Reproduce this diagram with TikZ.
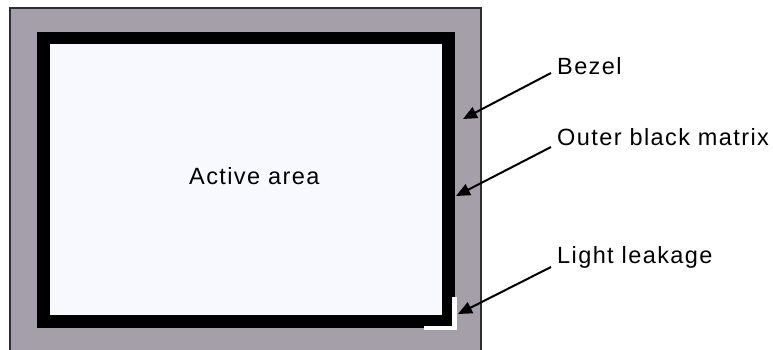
\documentclass[tikz,border=0pt]{standalone}
\usepackage{fontspec}
\setmainfont{Liberation Sans}[LetterSpace=6]
\usetikzlibrary{arrows.meta}
\definecolor{bezelgray}{RGB}{164,159,168}
\definecolor{activefill}{RGB}{248,248,255}
\definecolor{edgegray}{RGB}{45,45,50}
\tikzset{
  lbl/.style={font=\fontsize{23.5}{26}\selectfont, inner sep=0pt, anchor=base west},
  ptr/.style={line width=2pt, -{Triangle[length=14pt,width=12pt]}}
}
\begin{document}
\begin{tikzpicture}[x=1pt,y=-1pt]
\useasboundingbox (0,0) rectangle (773,349);
\begin{scope}
\clip (0,0) rectangle (773,349);
\fill[bezelgray] (10,8) rectangle (481,355);
\draw[edgegray, line width=1.5pt] (10,355) -- (10,8) -- (481,8) -- (481,355);
\fill[black] (37,32) rectangle (455,328);
\fill[activefill] (50,44) rectangle (442,315);
\draw[white, line width=4.5pt] (454.5,297) -- (454.5,328) -- (424,328);
\end{scope}
\node[lbl] (active) at (189,184) {Active area};
\node[lbl] (bezel) at (557,74) {Bezel};
\node[lbl] (obm) at (557,145) {Outer black matrix};
\node[lbl] (leak) at (557,263) {Light leakage};
\coordinate (bezeltail) at (551,73);
\coordinate (bezeltip) at (463,119);
\coordinate (obmtail) at (551,147);
\coordinate (obmtip) at (456,196);
\coordinate (leaktail) at (551,267);
\coordinate (leaktip) at (458,314);
\draw[ptr] (bezeltail) -- (bezeltip);
\draw[ptr] (obmtail) -- (obmtip);
\draw[ptr] (leaktail) -- (leaktip);
\end{tikzpicture}
\end{document}
